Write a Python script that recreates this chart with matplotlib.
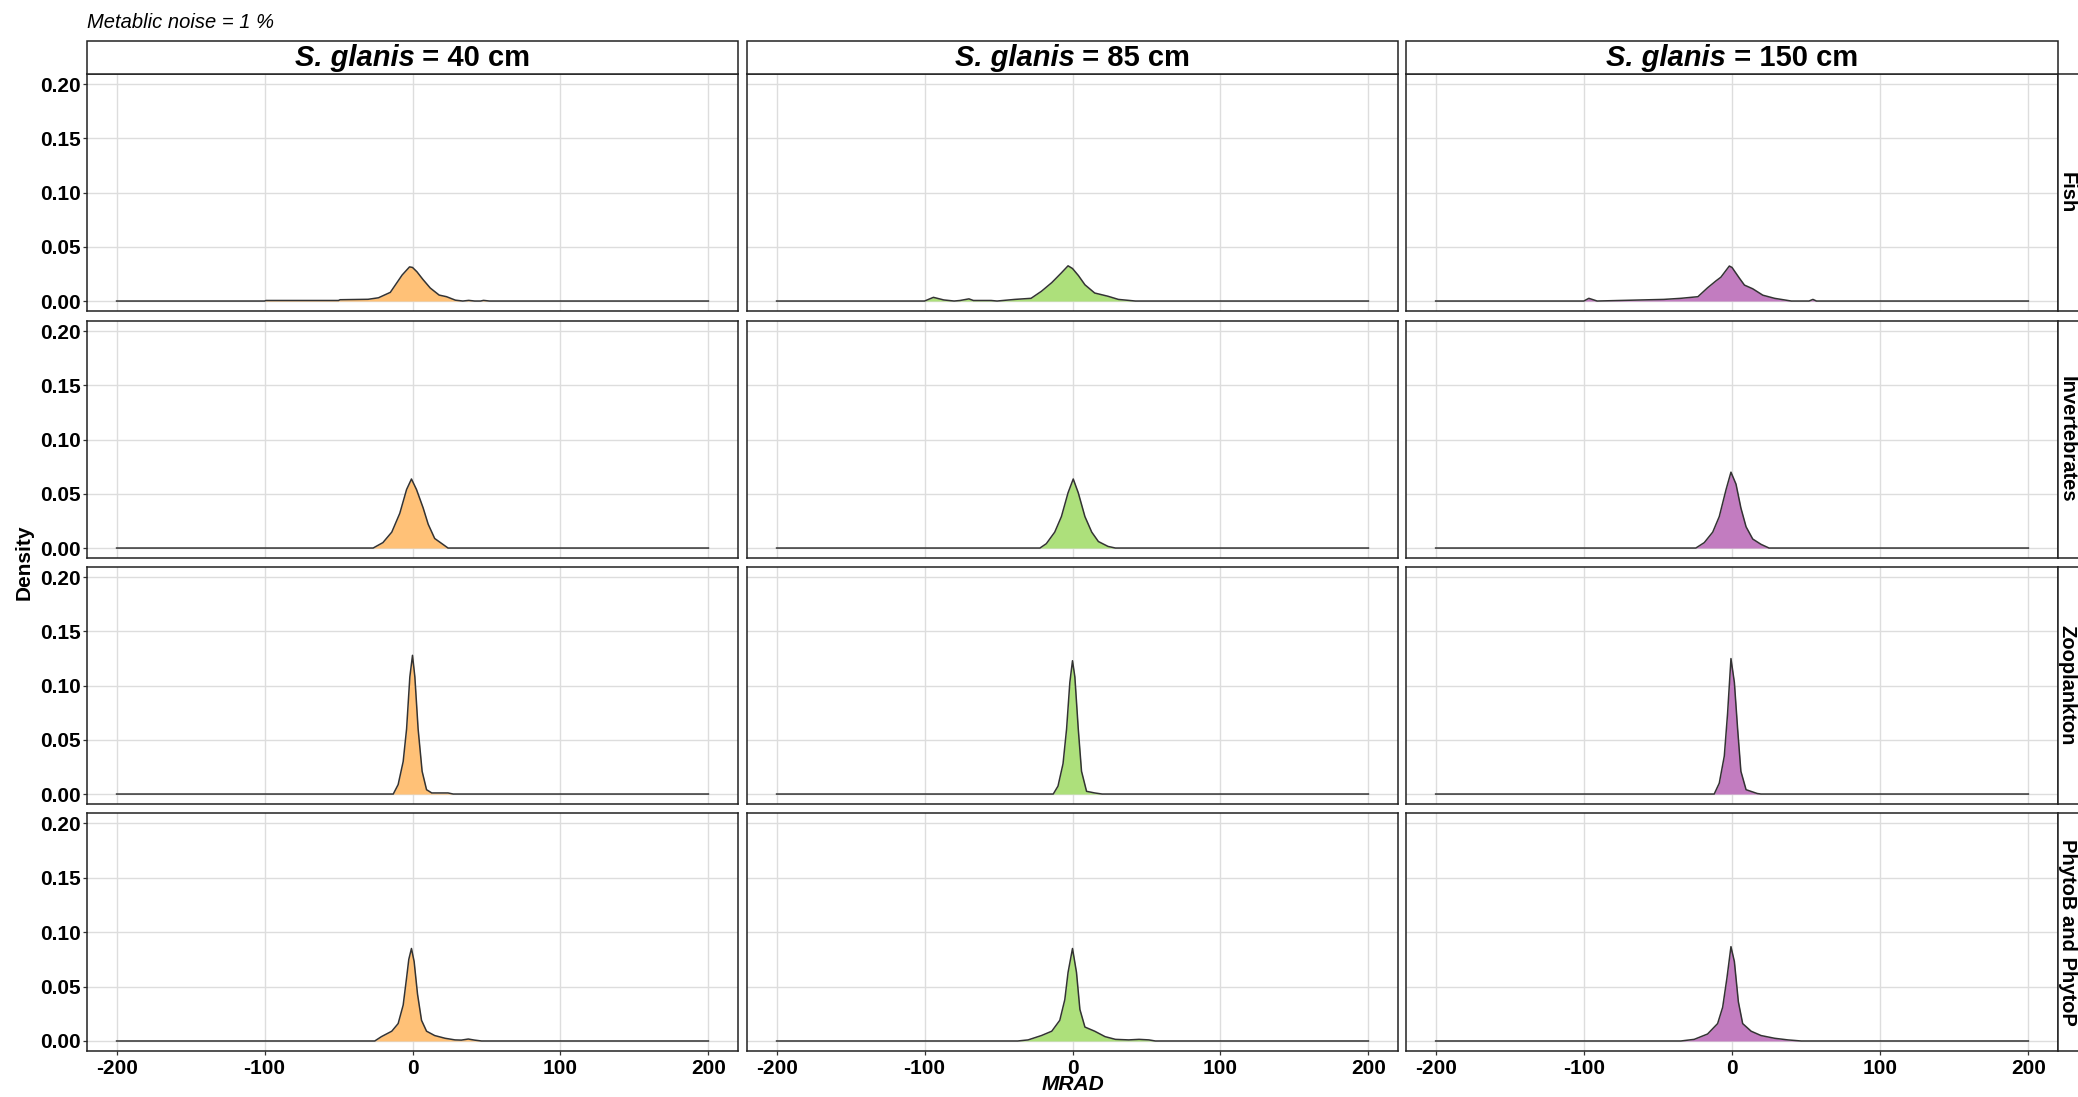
import matplotlib
matplotlib.use("Agg")
import matplotlib.pyplot as plt
from matplotlib.patches import Rectangle

plt.rcParams['font.family'] = ['Liberation Sans', 'DejaVu Sans']

# ---------------- data ----------------
sizes = ["40", "85", "150"]
groups = ["Fish", "Invertebrates", "Zooplankton", "PhytoB and PhytoP"]
fill_colors = ["#FFC177", "#ADE07B", "#C27CC0"]
x_ticks = [-200, -100, 0, 100, 200]
y_ticks = [0.00, 0.05, 0.10, 0.15, 0.20]
y_tick_labels = ["0.00", "0.05", "0.10", "0.15", "0.20"]

# Fish
fish_40_x = [-200, -100, -99, -50, -49, -30, -23, -15, -11, -7, -2, 0, 3, 7, 12, 18, 23, 29, 34, 38, 42, 46, 48, 52, 200]
fish_40_y = [0, 0, 0.0005, 0.0005, 0.0012, 0.0016, 0.003, 0.008, 0.016, 0.024, 0.0315, 0.031, 0.027, 0.020, 0.012, 0.0055, 0.004, 0.0008, 0.0, 0.0006, 0.0, 0.0, 0.0006, 0, 0]
fish_85_x = [-200, -100, -94, -87, -80, -76, -70, -67, -55, -51, -39, -28, -21, -14, -7.5, -3, 0, 4, 8.4, 15, 24, 31, 42.5, 200]
fish_85_y = [0, 0, 0.0034, 0.001, 0, 0.0005, 0.002, 0.0005, 0.0005, 0, 0.0015, 0.0025, 0.009, 0.017, 0.026, 0.0325, 0.030, 0.0235, 0.015, 0.0074, 0.0044, 0.0015, 0, 0]
fish_150_x = [-200, -100, -96.6, -91, -46, -34.5, -23, -16.5, -10.8, -7.5, -1.8, 0, 5, 8.4, 14, 20.8, 28.7, 40, 52, 54.6, 57, 200]
fish_150_y = [0, 0, 0.0025, 0.0, 0.0015, 0.0025, 0.004, 0.0122, 0.0186, 0.022, 0.0323, 0.031, 0.0211, 0.0147, 0.0113, 0.0054, 0.0025, 0, 0, 0.0015, 0, 0]

# Invertebrates
inv_40_x = [-200, -26.6, -20, -14, -8.6, -4, -0.7, 2.7, 7.2, 10.6, 15, 23, 24, 200]
inv_40_y = [0, 0, 0.005, 0.0147, 0.032, 0.054, 0.0637, 0.054, 0.037, 0.022, 0.0088, 0.001, 0, 0]
inv_85_x = [-200, -22, -17.7, -12, -7.5, -3, 0.5, 3.9, 8.4, 13, 17.5, 24, 29, 200]
inv_85_y = [0, 0, 0.004, 0.0147, 0.029, 0.051, 0.0637, 0.051, 0.029, 0.0147, 0.006, 0.0015, 0, 0]
inv_150_x = [-200, -24.4, -18.7, -13, -8.6, -4, -0.7, 2.7, 6, 9.5, 14, 19.6, 25, 200]
inv_150_y = [0, 0, 0.005, 0.0147, 0.029, 0.054, 0.070, 0.059, 0.037, 0.0196, 0.0083, 0.0034, 0, 0]

# Zooplankton
zoo_40_x = [-200, -13, -9.7, -6.3, -4, -1.8, 0, 1.6, 3.8, 6.5, 9.5, 13, 24, 27.5, 200]
zoo_40_y = [0, 0, 0.0087, 0.030, 0.060, 0.108, 0.128, 0.108, 0.060, 0.021, 0.004, 0.001, 0.001, 0, 0]
zoo_85_x = [-200, -13, -9.8, -6.4, -4, -1.8, 0, 1.6, 3.9, 6.1, 9.5, 15, 20, 200]
zoo_85_y = [0, 0, 0.0073, 0.028, 0.060, 0.103, 0.123, 0.108, 0.060, 0.021, 0.0025, 0.001, 0, 0]
zoo_150_x = [-200, -12, -8.6, -5.2, -3, -0.7, 1.6, 3.8, 6, 9.5, 17, 19.6, 200]
zoo_150_y = [0, 0, 0.010, 0.035, 0.074, 0.125, 0.103, 0.060, 0.021, 0.004, 0.0005, 0, 0]

# PhytoB and PhytoP
phy_40_x = [-200, -25.5, -21, -14, -9.7, -6.3, -4, -2.5, -0.7, 1.1, 3.4, 6.1, 9.5, 15, 22, 28.7, 33, 37.7, 42, 46.7, 200]
phy_40_y = [0, 0, 0.004, 0.009, 0.016, 0.033, 0.058, 0.075, 0.085, 0.073, 0.043, 0.019, 0.009, 0.005, 0.0025, 0.001, 0.0008, 0.0018, 0.0008, 0, 0]
phy_85_x = [-200, -37, -30, -21, -14, -8.6, -5.2, -3, 0, 2.7, 5, 8.4, 15, 22, 29, 38, 45, 51.6, 56, 200]
phy_85_y = [0, 0, 0.001, 0.005, 0.009, 0.019, 0.038, 0.063, 0.085, 0.063, 0.029, 0.0128, 0.009, 0.004, 0.0015, 0.001, 0.0015, 0.001, 0, 0]
phy_150_x = [-200, -34.5, -25.5, -16.5, -9.7, -6.3, -3.4, -0.7, 1.6, 4.3, 7.2, 12.9, 19.6, 28.7, 37.7, 46.7, 200]
phy_150_y = [0, 0, 0.0015, 0.0064, 0.016, 0.031, 0.058, 0.0867, 0.073, 0.036, 0.016, 0.009, 0.005, 0.0025, 0.001, 0, 0]

curves = {
    ("Fish", "40"): (fish_40_x, fish_40_y),
    ("Fish", "85"): (fish_85_x, fish_85_y),
    ("Fish", "150"): (fish_150_x, fish_150_y),
    ("Invertebrates", "40"): (inv_40_x, inv_40_y),
    ("Invertebrates", "85"): (inv_85_x, inv_85_y),
    ("Invertebrates", "150"): (inv_150_x, inv_150_y),
    ("Zooplankton", "40"): (zoo_40_x, zoo_40_y),
    ("Zooplankton", "85"): (zoo_85_x, zoo_85_y),
    ("Zooplankton", "150"): (zoo_150_x, zoo_150_y),
    ("PhytoB and PhytoP", "40"): (phy_40_x, phy_40_y),
    ("PhytoB and PhytoP", "85"): (phy_85_x, phy_85_y),
    ("PhytoB and PhytoP", "150"): (phy_150_x, phy_150_y),
}

# ---------------- layout (pixels) ----------------
W, H = 2078, 1097
fig = plt.figure(figsize=(W / 100, H / 100), dpi=100)
fig.patch.set_facecolor("white")

cols_px = [(87, 738), (747, 1398), (1406, 2058)]
rows_px = [(74, 311), (321, 558), (567, 804), (813, 1051)]
strip_top = (41, 74)
strip_right = (2058, 2100)

def fx(px):
    return px / W

def fy(py):
    return 1 - py / H

border_col = "#222222"
grid_col = "#dddddd"

for ri, g in enumerate(groups):
    for ci, s in enumerate(sizes):
        x0, x1 = cols_px[ci]
        y0, y1 = rows_px[ri]
        ax = fig.add_axes([fx(x0), fy(y1), fx(x1) - fx(x0), fy(y0) - fy(y1)])
        ax.set_xlim(-220, 220)
        ax.set_ylim(-0.0092, 0.2095)
        ax.set_xticks(x_ticks)
        ax.set_yticks(y_ticks)
        ax.grid(True, color=grid_col, lw=1.0, zorder=0)
        ax.set_axisbelow(True)
        for sp in ax.spines.values():
            sp.set_color(border_col)
            sp.set_linewidth(1.1)
        xs, ys = curves[(g, s)]
        ax.fill_between(xs, ys, 0, color=fill_colors[ci], lw=0, zorder=2)
        ax.plot(xs, ys, color="#333333", lw=1.1, zorder=3)
        ax.tick_params(axis="both", length=3, width=0.9, color="#333333",
                       labelsize=15, labelcolor="black")
        ax.tick_params(axis="y", pad=1.5)
        ax.tick_params(axis="x", pad=3)
        if ci == 0:
            ax.set_yticklabels(y_tick_labels, fontweight="bold")
        else:
            ax.tick_params(axis="y", length=0, labelleft=False)
        if ri == len(groups) - 1:
            ax.set_xticklabels([str(v) for v in x_ticks], fontweight="bold")
        else:
            ax.tick_params(axis="x", length=0, labelbottom=False)

# top strips
renderer = fig.canvas.get_renderer()
for ci, s in enumerate(sizes):
    x0, x1 = cols_px[ci]
    fig.add_artist(Rectangle((fx(x0), fy(strip_top[1])), fx(x1) - fx(x0),
                             fy(strip_top[0]) - fy(strip_top[1]),
                             transform=fig.transFigure, facecolor="white",
                             edgecolor=border_col, lw=1.1))
    cy = fy((strip_top[0] + strip_top[1]) / 2)
    t1 = fig.text(0, cy, "S. glanis", fontsize=21, fontweight="bold",
                  fontstyle="italic", va="center", ha="left")
    t2 = fig.text(0, cy, " = " + s + " cm", fontsize=21, fontweight="bold",
                  va="center", ha="left")
    w1 = t1.get_window_extent(renderer).width
    w2 = t2.get_window_extent(renderer).width
    cx = (x0 + x1) / 2
    start = cx - (w1 + w2) / 2
    t1.set_x(fx(start))
    t2.set_x(fx(start + w1))

# right strips
for ri, g in enumerate(groups):
    y0, y1 = rows_px[ri]
    fig.add_artist(Rectangle((fx(strip_right[0]), fy(y1)),
                             fx(strip_right[1]) - fx(strip_right[0]),
                             fy(y0) - fy(y1), transform=fig.transFigure,
                             facecolor="white", edgecolor=border_col, lw=1.1,
                             clip_on=False))
    fig.text(fx(2067), fy((y0 + y1) / 2), g, rotation=-90, fontsize=14.5,
             fontweight="bold", va="center", ha="center")

# titles / axis labels
fig.text(fx(87), fy(22), "Metablic noise = 1 %", fontsize=14.5,
         fontstyle="italic", va="center", ha="left")
fig.text(fx(24), fy((rows_px[0][0] + rows_px[-1][1]) / 2), "Density",
         rotation=90, fontsize=15, fontweight="bold", va="center", ha="center")
fig.text(fx((cols_px[0][0] + cols_px[-1][1]) / 2), fy(1085), "MRAD",
         fontsize=15, fontweight="bold", fontstyle="italic", va="center",
         ha="center")

fig.savefig("out.png", dpi=100, facecolor="white")
